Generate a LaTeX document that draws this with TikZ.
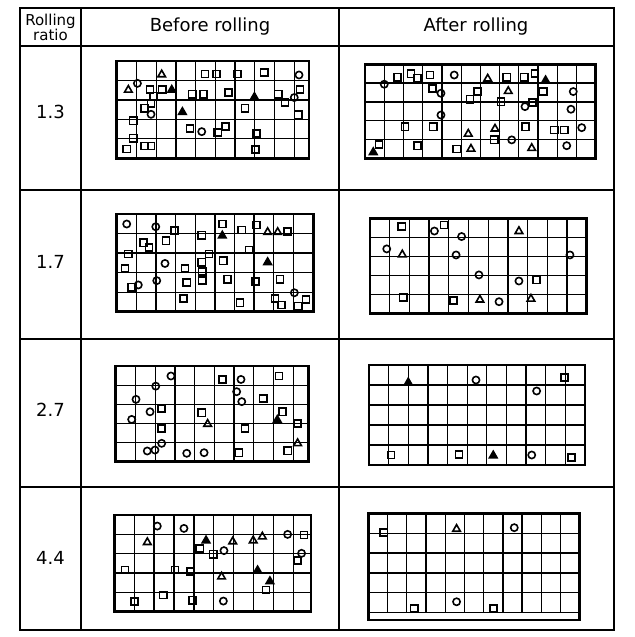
\documentclass[tikz,border=0pt]{standalone}
\usepackage{fontspec}
\setmainfont{DejaVu Sans}
% markers: square, circle, open and filled triangle
\newcommand{\msq}[2]{\draw[mk] (#1,#2) ++(-1.8pt,-1.8pt) rectangle ++(3.6pt,3.6pt);}
\newcommand{\mci}[2]{\draw[mk] (#1,#2) circle[radius=1.8pt];}
\newcommand{\mtr}[2]{\draw[mk] (#1,#2) ++(0pt,1.9pt) -- ++(-1.9pt,-3.3pt) -- ++(3.8pt,0pt) -- cycle;}
\newcommand{\mtf}[2]{\filldraw[mk] (#1,#2) ++(0pt,1.9pt) -- ++(-1.9pt,-3.3pt) -- ++(3.8pt,0pt) -- cycle;}
\begin{document}
\begin{tikzpicture}[x=0.5pt,y=-0.5pt,font=\fontsize{9}{10}\selectfont,
  rule/.style={line width=0.9pt},
  gridl/.style={line width=0.65pt},
  frame/.style={line width=1.4pt},
  mk/.style={line width=0.8pt}]
\useasboundingbox (0,0) rectangle (634,637);
% table
\draw[rule] (20,8) rectangle (614,630);
\draw[rule] (20,46) -- (614,46);
\draw[rule] (20,190) -- (614,190);
\draw[rule] (20,339) -- (614,339);
\draw[rule] (20,487) -- (614,487);
\draw[rule] (81,8) -- (81,630);
\draw[rule] (339,8) -- (339,630);
\node[align=center,font=\fontsize{7.5}{7.5}\selectfont] (hratio) at (50.5,27) {Rolling\\ratio};
\node (hbefore) at (210,27) {Before rolling};
\node (hafter) at (476,27) {After rolling};
\node (r1) at (50.5,112) {1.3};
\node (r2) at (50.5,262) {1.7};
\node (r3) at (50.5,410) {2.7};
\node (r4) at (50.5,558) {4.4};
% ratio 1.3, before
\begin{scope}[shift={(116.7,158.3)},x=9.865pt,y=9.735pt]
\draw[gridl,step=1] (0,0) grid (9.75,5);
\draw[frame] (0,0) rectangle (9.75,5);
\mtr{2.28}{4.33} \msq{4.48}{4.33} \msq{5.05}{4.33} \msq{6.11}{4.33}
\msq{7.48}{4.40} \mci{9.24}{4.28}
\mtr{0.59}{3.54} \mci{1.05}{3.85} \msq{1.69}{3.54} \msq{1.86}{3.20}
\msq{2.31}{3.54} \mtf{2.79}{3.54} \msq{3.83}{3.29} \msq{4.39}{3.29}
\msq{5.66}{3.37} \mtf{6.98}{3.17} \msq{8.19}{3.29} \msq{8.53}{2.86}
\mci{9.00}{3.12} \msq{9.29}{3.54}
\msq{1.74}{2.83} \msq{1.40}{2.57} \mci{1.74}{2.26} \mtf{3.33}{2.40}
\msq{6.50}{2.57} \msq{9.20}{2.23}
\msq{0.84}{1.93} \msq{3.72}{1.54} \mci{4.31}{1.37} \msq{5.12}{1.32}
\msq{5.52}{1.63} \msq{7.09}{1.28}
\msq{0.84}{1.03} \msq{0.51}{0.48} \msq{1.40}{0.63} \msq{1.74}{0.63}
\msq{7.04}{0.46}
\end{scope}
% ratio 1.3, after
\begin{scope}[shift={(365,158.3)},x=9.615pt,y=9.4pt]
\draw[gridl,step=1] (0,0) grid (12,5);
\draw[frame] (0,0) rectangle (12,5);
\mci{1.00}{3.94} \msq{1.70}{4.31} \msq{2.39}{4.49} \msq{2.74}{4.26}
\msq{3.38}{4.43} \mci{4.64}{4.43} \mtr{6.38}{4.26} \msq{7.37}{4.31}
\msq{8.28}{4.31} \msq{8.84}{4.52} \mtf{9.39}{4.17}
\msq{3.50}{3.72} \mci{3.95}{3.46} \msq{5.46}{3.14} \msq{5.86}{3.55}
\mtr{7.45}{3.60} \msq{9.27}{3.55} \mci{10.83}{3.55} \msq{7.07}{3.01}
\mci{8.32}{2.75} \msq{8.70}{2.96}
\mci{3.95}{2.30} \mci{10.71}{2.61}
\msq{2.08}{1.68} \msq{3.55}{1.68} \mtr{5.37}{1.33} \mtr{6.76}{1.60}
\msq{8.35}{1.68} \msq{9.84}{1.51} \msq{10.36}{1.51} \mci{11.27}{1.63}
\msq{6.72}{0.98} \mci{7.63}{0.98}
\msq{0.73}{0.74} \mtf{0.43}{0.35} \msq{2.74}{0.66} \msq{4.77}{0.50}
\mtr{5.51}{0.53} \mtr{8.67}{0.57} \mci{10.49}{0.67}
\end{scope}
% ratio 1.7, before
\begin{scope}[shift={(116.7,311.7)},x=9.815pt,y=9.765pt]
\draw[gridl,step=1] (0,0) grid (10.05,5);
\draw[frame] (0,0) rectangle (10.05,5);
\mci{0.51}{4.49} \mci{1.99}{4.35} \msq{2.94}{4.15} \msq{4.33}{3.92}
\msq{5.38}{4.49} \mtf{5.38}{3.92} \msq{6.37}{4.18} \msq{7.13}{4.44}
\mtr{7.69}{4.10} \mtr{8.20}{4.10} \msq{8.71}{4.10}
\msq{1.36}{3.53} \msq{1.65}{3.29} \msq{2.51}{3.63} \msq{0.59}{2.95}
\msq{6.74}{3.16} \msq{4.70}{2.95}
\msq{0.42}{2.22} \mci{2.46}{2.47} \msq{3.48}{2.22} \msq{4.33}{2.53}
\msq{4.36}{2.05} \msq{5.43}{2.61} \mtf{7.69}{2.56}
\msq{0.76}{1.25} \mci{1.10}{1.37} \mci{2.04}{1.59} \msq{3.57}{1.50}
\msq{4.36}{1.59} \msq{5.65}{1.66} \msq{7.08}{1.54} \msq{8.32}{1.66}
\mci{9.05}{0.97}
\msq{3.40}{0.68} \msq{6.28}{0.46} \msq{8.06}{0.68} \msq{8.40}{0.34}
\msq{9.25}{0.29} \msq{9.64}{0.63}
\end{scope}
% ratio 1.7, after
\begin{scope}[shift={(370,313.3)},x=9.85pt,y=9.5pt]
\draw[gridl,step=1] (0,0) grid (11,5);
\draw[frame] (0,0) rectangle (11,5);
\msq{1.61}{4.56} \mci{3.27}{4.33} \msq{3.77}{4.65} \mci{4.65}{4.04}
\mtr{7.56}{4.35}
\mci{0.85}{3.39} \mtr{1.64}{3.12} \mci{4.37}{3.07} \mci{10.15}{3.07}
\mci{5.53}{2.02} \mci{7.56}{1.70} \msq{8.46}{1.75}
\msq{1.69}{0.84} \msq{4.23}{0.67} \mtr{5.58}{0.74} \mci{6.55}{0.61}
\mtr{8.17}{0.79}
\end{scope}
% ratio 2.7, before
\begin{scope}[shift={(115.7,461.7)},x=9.865pt,y=9.565pt]
\draw[gridl,step=1] (0,0) grid (9.76,5);
\draw[frame] (0,0) rectangle (9.76,5);
\mci{2.80}{4.48} \msq{5.41}{4.30} \mci{6.35}{4.30} \msq{8.28}{4.48}
\mci{2.03}{3.95} \mci{1.03}{3.26} \mci{6.13}{3.66} \mci{6.39}{3.14}
\msq{7.48}{3.31}
\msq{2.33}{2.79} \mci{1.74}{2.61} \msq{4.36}{2.56} \mtr{4.66}{2.00}
\msq{8.46}{2.61} \mtf{8.19}{2.21} \msq{9.21}{2.00} \mci{0.81}{2.21}
\msq{2.33}{1.74} \msq{6.55}{1.74} \mtr{9.22}{0.99} \mci{2.33}{0.96}
\mci{1.60}{0.56} \mci{1.99}{0.61} \mci{3.60}{0.44} \mci{4.48}{0.47}
\msq{6.25}{0.47} \msq{8.72}{0.57}
\end{scope}
% ratio 2.7, after
\begin{scope}[shift={(369,465)},x=9.815pt,y=10pt]
\draw[gridl,step=1] (0,0) grid (11,5);
\draw[frame] (0,0) rectangle (11,5);
\mtf{2.00}{4.15} \mci{5.45}{4.25} \msq{9.95}{4.37} \mci{8.54}{3.70}
\msq{1.12}{0.50} \msq{4.58}{0.53} \mtf{6.33}{0.50} \mci{8.29}{0.50}
\msq{10.32}{0.38}
\end{scope}
% ratio 4.4, before
\begin{scope}[shift={(114.3,611.7)},x=9.95pt,y=9.665pt]
\draw[gridl,step=1] (0,0) grid (9.88,5);
\draw[frame] (0,0) rectangle (9.88,5);
\mci{2.16}{4.43} \mci{3.50}{4.31} \mtr{1.66}{3.62} \mtf{4.61}{3.71}
\msq{4.30}{3.28} \msq{4.97}{2.98} \mci{5.51}{3.16} \mtr{5.95}{3.66}
\mtr{6.98}{3.71} \mtr{7.44}{3.91} \mci{8.71}{4.00} \msq{9.53}{3.97}
\mci{9.41}{3.02} \msq{9.20}{2.64}
\msq{0.54}{2.16} \msq{3.05}{2.16} \msq{3.84}{2.07} \mtr{5.39}{1.84}
\mtf{7.20}{2.16} \mtf{7.82}{1.60} \msq{7.62}{1.12}
\msq{2.46}{0.86} \msq{1.01}{0.52} \msq{3.92}{0.60} \mci{5.48}{0.55}
\end{scope}
% ratio 4.4, after
\begin{scope}[shift={(368.3,612.7)},x=9.615pt,y=9.935pt]
\draw[gridl,step=1] (0,0) grid (11,5);
\draw[frame] (0,-0.37) rectangle (11,5);
\msq{0.81}{4.03} \mtr{4.59}{4.24} \mci{7.59}{4.28}
\mci{4.59}{0.55} \msq{2.39}{0.22} \msq{6.50}{0.22}
\end{scope}
\end{tikzpicture}
\end{document}
